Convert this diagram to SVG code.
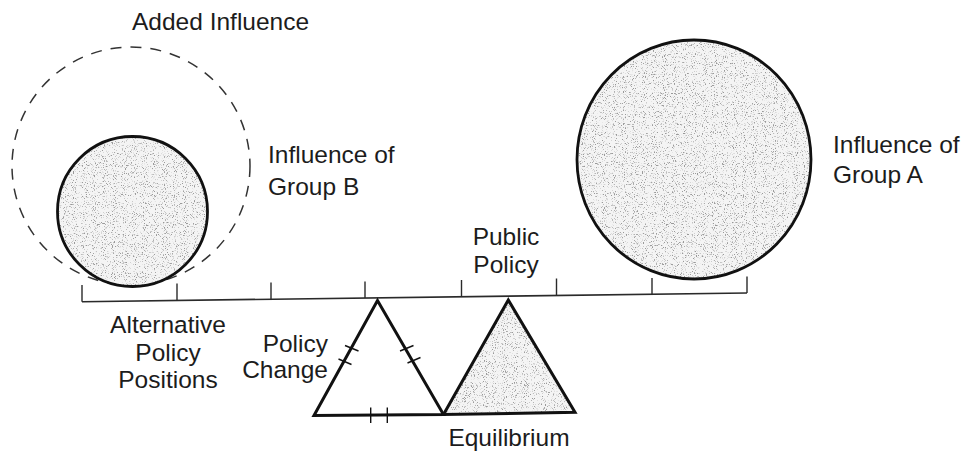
<svg xmlns="http://www.w3.org/2000/svg" width="972" height="452" viewBox="0 0 972 452">
  <style>
    .lbl { font-family: "Liberation Sans", Arial, Helvetica, sans-serif; font-size: 24.5px; fill: #1c1c1c; }
    .mid { text-anchor: middle; }
    .end { text-anchor: end; }
    .outline { fill: none; stroke: #111; stroke-width: 2.8; }
    .tri { stroke: #111; stroke-width: 3; stroke-linejoin: miter; }
    .dashed { fill: none; stroke: #333; stroke-width: 1.5; stroke-dasharray: 11 9; }
    .beam { stroke: #2a2a2a; stroke-width: 1.6; fill: none; }
    .tick { stroke: #2a2a2a; stroke-width: 1.4; }
    .hash { stroke: #111; stroke-width: 1.4; }
    .shade { fill: #f4f4f4; filter: url(#stipple); }
  </style>
  <defs>
    <!-- grainy stipple texture for the shaded shapes -->
    <filter id="stipple" x="0" y="0" width="1" height="1" color-interpolation-filters="sRGB">
      <feTurbulence type="fractalNoise" baseFrequency="0.9" numOctaves="2" seed="7" result="noise"/>
      <feColorMatrix in="noise" type="matrix" values="0 0 0 0 0.6  0 0 0 0 0.6  0 0 0 0 0.6  6 0 0 0 -3.45" result="dots"/>
      <feComposite in="dots" in2="SourceGraphic" operator="in" result="speckle"/>
      <feMerge>
        <feMergeNode in="SourceGraphic"/>
        <feMergeNode in="speckle"/>
      </feMerge>
    </filter>
  </defs>

  <rect width="972" height="452" fill="#ffffff"/>

  <!-- balance beam with position ticks -->
  <g id="connectors">
    <g id="beam">
      <line class="beam" x1="82" y1="301.7" x2="747" y2="293"/>
      <line class="tick" x1="82" y1="301.7" x2="82" y2="285"/>
      <line class="tick" x1="177" y1="300.5" x2="177" y2="283.5"/>
      <line class="tick" x1="271" y1="299.2" x2="271" y2="282.5"/>
      <line class="tick" x1="365" y1="298" x2="365" y2="281.5"/>
      <line class="tick" x1="461.5" y1="296.7" x2="461.5" y2="280"/>
      <line class="tick" x1="556.5" y1="295.5" x2="556.5" y2="278.5"/>
      <line class="tick" x1="652" y1="294.2" x2="652" y2="278"/>
      <line class="tick" x1="747" y1="293" x2="747" y2="276.5"/>
    </g>
  </g>

  <!-- added influence (dashed) -->
  <g id="added-influence">
    <circle class="dashed" cx="131" cy="166" r="119"/>
    <text class="lbl" x="132" y="30">Added Influence</text>
  </g>

  <!-- group B -->
  <g id="group-b">
    <circle class="shade" cx="132.5" cy="211.5" r="75"/>
    <circle class="outline" cx="132.5" cy="211.5" r="75"/>
    <text class="lbl" x="268" y="163">Influence of</text>
    <text class="lbl" x="268" y="195">Group B</text>
  </g>

  <!-- group A -->
  <g id="group-a">
    <ellipse class="shade" cx="694" cy="159.5" rx="117" ry="119.5"/>
    <ellipse class="outline" cx="694" cy="159.5" rx="117" ry="119.5"/>
    <text class="lbl" x="833" y="153">Influence of</text>
    <text class="lbl" x="833" y="183">Group A</text>
  </g>

  <!-- positions label -->
  <g id="alternative-positions">
    <text class="lbl mid" x="168" y="333">Alternative</text>
    <text class="lbl mid" x="168" y="361">Policy</text>
    <text class="lbl mid" x="168" y="388">Positions</text>
  </g>

  <!-- public policy label -->
  <g id="public-policy">
    <text class="lbl mid" x="506" y="245">Public</text>
    <text class="lbl mid" x="506" y="273">Policy</text>
  </g>

  <!-- fulcrum after policy change (open triangle with hash marks) -->
  <g id="policy-change">
    <polygon class="tri" fill="#ffffff" points="314,415.5 377.5,300.5 443.5,414.5"/>
    <line class="hash" x1="345" y1="345.5" x2="358.5" y2="351"/>
    <line class="hash" x1="338.5" y1="359" x2="351.5" y2="364.5"/>
    <line class="hash" x1="400" y1="351" x2="413.5" y2="345.5"/>
    <line class="hash" x1="407.5" y1="363" x2="420.5" y2="357.5"/>
    <line class="hash" x1="370.7" y1="407.5" x2="370.7" y2="423"/>
    <line class="hash" x1="387.3" y1="407.5" x2="387.3" y2="423"/>
    <text class="lbl end" x="328" y="352">Policy</text>
    <text class="lbl end" x="328" y="378">Change</text>
  </g>

  <!-- equilibrium fulcrum (shaded triangle) -->
  <g id="equilibrium">
    <polygon class="shade" points="443.5,414.5 508.3,300 575,412.3"/>
    <polygon class="tri" fill="none" points="443.5,414.5 508.3,300 575,412.3"/>
    <text class="lbl mid" x="509" y="446">Equilibrium</text>
  </g>
</svg>
